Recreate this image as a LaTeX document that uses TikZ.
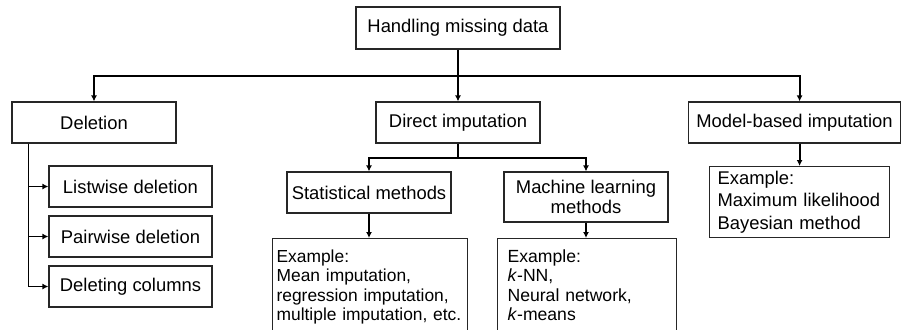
\documentclass[tikz,border=0pt]{standalone}
\usepackage{fontspec}
\setmainfont{Liberation Sans}
\usetikzlibrary{arrows.meta, calc}

\begin{document}
\begin{tikzpicture}[x=0.5pt, y=-0.5pt, >={Latex[length=3pt,width=3pt]},
  box/.style={draw=black!85, line width=0.6pt, minimum width=82pt, minimum height=20.5pt, inner sep=1pt, font=\fontsize{9.2}{10}\selectfont},
  exbox/.style={draw=black!85, line width=0.6pt, anchor=north west, align=left, inner ysep=5.5pt, font=\fontsize{8.8}{9.75}\selectfont},
  link/.style={line width=0.9pt}]
\useasboundingbox (0,0) rectangle (901,329);

% boxes
\node[box, minimum width=102pt, minimum height=21pt] (root) at (458,28) {Handling missing data};
\node[box] (del) at (94,122.5) {Deletion};
\node[box] (direct) at (458,122.5) {Direct imputation};
\node[box, minimum width=106pt] (model) at (794.5,122.5) {Model-based imputation};

\node[box, minimum width=81.5pt] (list) at (130.5,186.5) {Listwise deletion};
\node[box, minimum width=81.5pt] (pair) at (130.5,236.5) {Pairwise deletion};
\node[box, minimum width=81.5pt] (delcol) at (130.5,286.5) {Deleting columns};

\node[box] (stat) at (369,192.5) {Statistical methods};
\node[box, minimum height=25pt, align=center] (ml) at (586,197) {Machine learning\\methods};

\node[exbox, text width=93.5pt, inner xsep=2pt, font=\fontsize{8.7}{9.75}\selectfont] (statex) at (272,238) {Example:\\Mean imputation,\\regression imputation,\\multiple imputation, etc.\strut};
\node[exbox, text width=79.5pt, inner xsep=5pt] (mlex) at (497,238) {Example:\\\textit{k}-NN,\\Neural network,\\\textit{k}-means\strut};
\node[exbox, text width=82pt, inner xsep=4pt, inner ysep=1pt, minimum height=35.5pt, font=\fontsize{9.2}{11.25}\selectfont] (modelex) at (709,166) {Example:\\Maximum likelihood\\Bayesian method};

% connectors
\coordinate (bus) at (458,76);
\coordinate (split) at (458,158);
\coordinate (spine) at ([xshift=8.5pt]del.south west);

\draw[link] (root.south) -- (bus);
\draw[link,->] (bus) -| (del.north);
\draw[link,->] (bus) -- (direct.north);
\draw[link,->] (bus) -| (model.north -| modelex.north);
\draw[link,->] (model.south -| modelex.north) -- (modelex.north);

\foreach \n in {list,pair,delcol}
  \draw[link,->] (spine) |- (\n.west);

\draw[link] (direct.south) -- (split);
\draw[link,->] (split) -| (stat.north);
\draw[link,->] (split) -| (ml.north);
\draw[link,->] (stat.south) -- (stat.south |- statex.north);
\draw[link,->] (ml.south) -- (ml.south |- mlex.north);
\end{tikzpicture}
\end{document}
